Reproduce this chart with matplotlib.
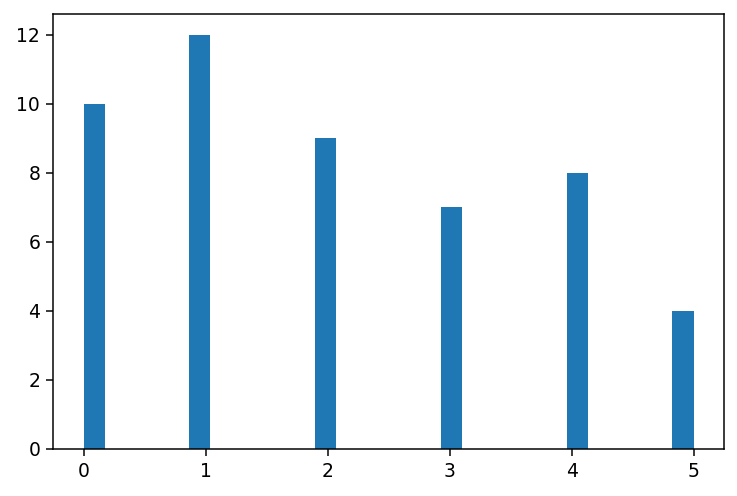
import matplotlib
matplotlib.use("Agg")
import matplotlib.pyplot as plt

values = [0, 1, 2, 3, 4, 5]
counts = [10, 12, 9, 7, 8, 4]
n_bins = 29

DPI = 135
fig = plt.figure(figsize=(737 / DPI, 496 / DPI), dpi=DPI)
ax = fig.add_axes([53.3 / 737, (496 - 448.5) / 496, (724 - 53.3) / 737, (448.5 - 14) / 496])
ax.hist(values, bins=n_bins, range=(0, 5), weights=counts, color="#1f77b4")
ax.tick_params(labelsize=10)
fig.savefig("out.png", dpi=DPI)
